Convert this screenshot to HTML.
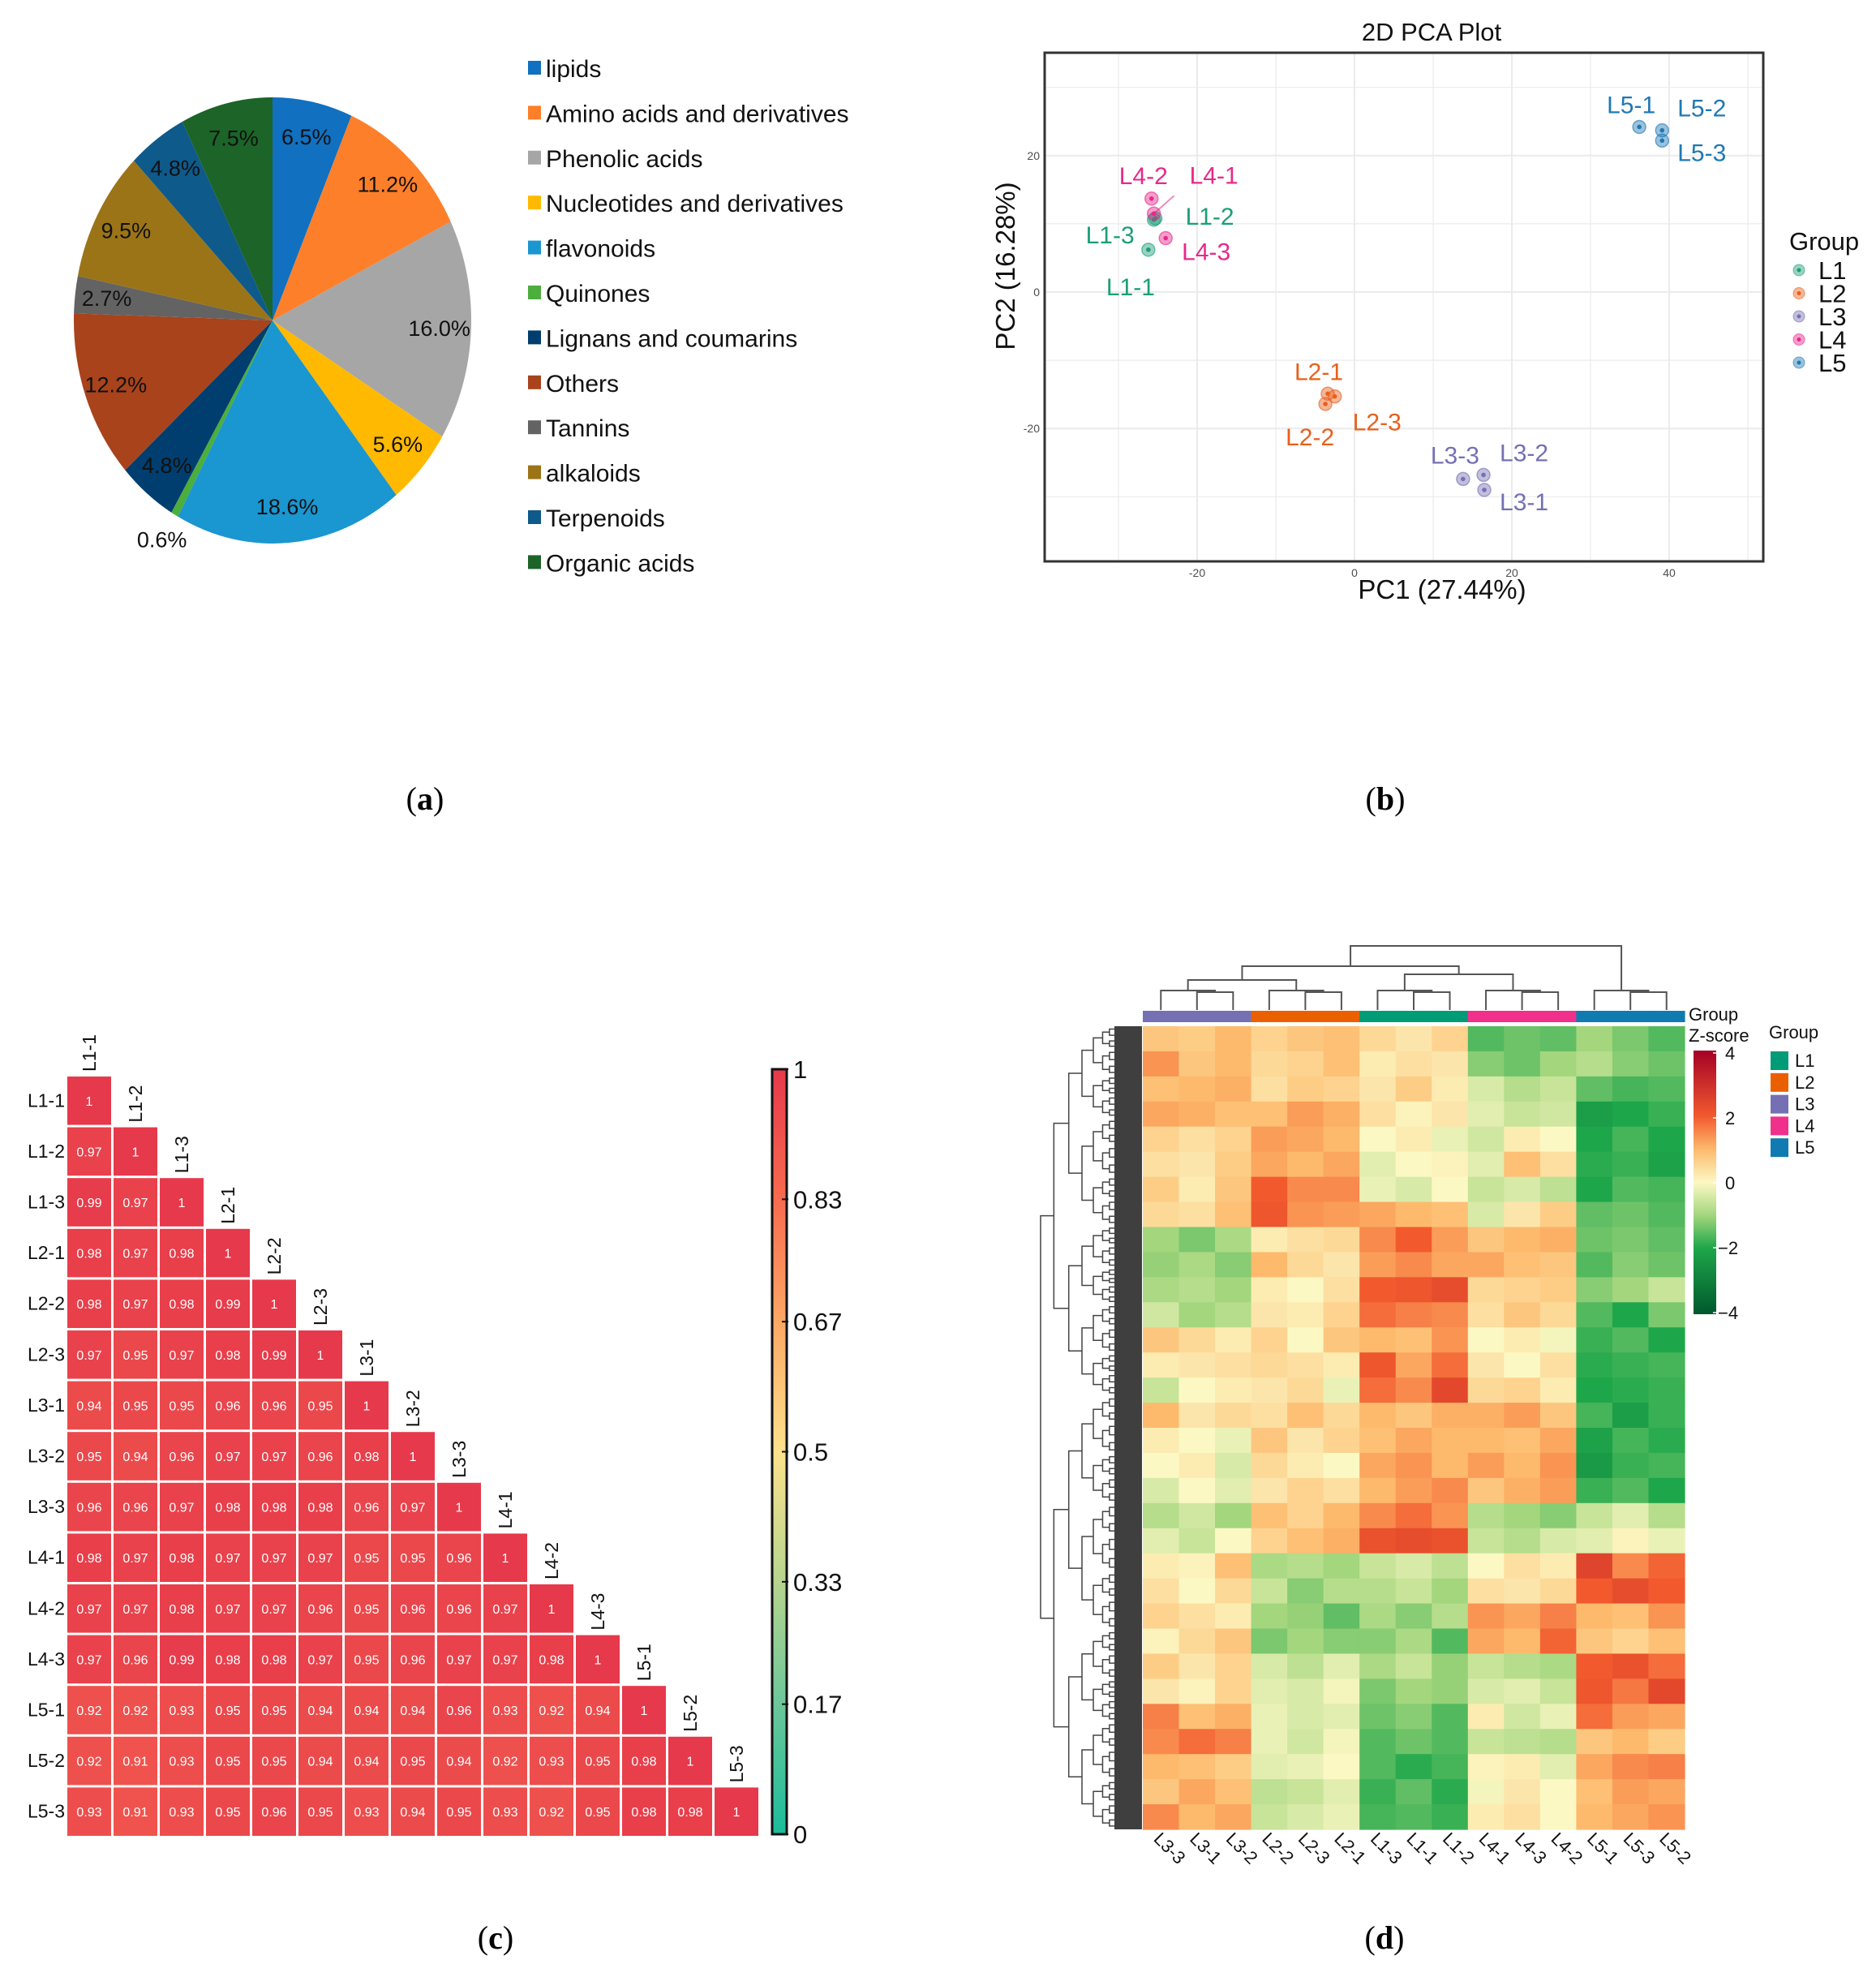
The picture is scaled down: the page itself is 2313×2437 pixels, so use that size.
<!DOCTYPE html>
<html><head><meta charset="utf-8"><style>
html,body{margin:0;padding:0;background:#fff;}
svg{display:block;font-family:"Liberation Sans",Arial,sans-serif;}
</style></head><body>
<svg id="chart" xmlns="http://www.w3.org/2000/svg" width="2313" height="2437" viewBox="0 0 2313 2437">
<rect x="0" y="0" width="2313" height="2437" fill="#fff"/>
<text x="524" y="998" font-family="Liberation Serif,serif" font-size="40" text-anchor="middle">(<tspan font-weight="bold">a</tspan>)</text>
<text x="1708" y="998" font-family="Liberation Serif,serif" font-size="40" text-anchor="middle">(<tspan font-weight="bold">b</tspan>)</text>
<text x="611" y="2402" font-family="Liberation Serif,serif" font-size="40" text-anchor="middle">(<tspan font-weight="bold">c</tspan>)</text>
<text x="1707" y="2402" font-family="Liberation Serif,serif" font-size="40" text-anchor="middle">(<tspan font-weight="bold">d</tspan>)</text>
</svg>
<script>
// ---------- Panel A data ----------
const pieCategories = ["lipids","Amino acids and derivatives","Phenolic acids","Nucleotides and derivatives","flavonoids","Quinones","Lignans and coumarins","Others","Tannins","alkaloids","Terpenoids","Organic acids"];
const pieValues = [6.5,11.2,16.0,5.6,18.6,0.6,4.8,12.2,2.7,9.5,4.8,7.5];
const pieColors = ["#1170c0","#fd7f2a","#a6a6a6","#ffb900","#1a96d0","#4cae3c","#003e6f","#a8431c","#636363","#9b7418","#0e5a8a","#1c6428"];

// ---------- Panel B data ----------
const pcaNames = ["L1-1","L1-2","L1-3","L2-1","L2-2","L2-3","L3-1","L3-2","L3-3","L4-1","L4-2","L4-3","L5-1","L5-2","L5-3"];
const pcaGroup = [0,0,0,1,1,1,2,2,2,3,3,3,4,4,4];
const pcaX = [-26.2,-25.3,-25.5,-3.4,-3.7,-2.5,16.5,16.4,13.8,-25.5,-25.8,-24.0,36.2,39.1,39.1];
const pcaY = [6.2,10.8,10.6,-14.9,-16.4,-15.3,-29.0,-26.8,-27.4,11.5,13.7,7.9,24.2,23.7,22.2];
const pcaXTicks = [-20,0,20,40];
const pcaYTicks = [20,0,-20];
const groupNames = ["L1","L2","L3","L4","L5"];

// ---------- Panel C data ----------
const corrLabels = ["L1-1","L1-2","L1-3","L2-1","L2-2","L2-3","L3-1","L3-2","L3-3","L4-1","L4-2","L4-3","L5-1","L5-2","L5-3"];
const corrRows = [
[1],
[.97,1],
[.99,.97,1],
[.98,.97,.98,1],
[.98,.97,.98,.99,1],
[.97,.95,.97,.98,.99,1],
[.94,.95,.95,.96,.96,.95,1],
[.95,.94,.96,.97,.97,.96,.98,1],
[.96,.96,.97,.98,.98,.98,.96,.97,1],
[.98,.97,.98,.97,.97,.97,.95,.95,.96,1],
[.97,.97,.98,.97,.97,.96,.95,.96,.96,.97,1],
[.97,.96,.99,.98,.98,.97,.95,.96,.97,.97,.98,1],
[.92,.92,.93,.95,.95,.94,.94,.94,.96,.93,.92,.94,1],
[.92,.91,.93,.95,.95,.94,.94,.95,.94,.92,.93,.95,.98,1],
[.93,.91,.93,.95,.96,.95,.93,.94,.95,.93,.92,.95,.98,.98,1]];
const corrTicks = [1,0.83,0.67,0.5,0.33,0.17,0];

// ---------- Panel D data ----------
const hmCols = ["L3-3","L3-1","L3-2","L2-2","L2-3","L2-1","L1-3","L1-1","L1-2","L4-1","L4-3","L4-2","L5-1","L5-3","L5-2"];
const hmColGroup = [2,2,2,1,1,1,0,0,0,3,3,3,4,4,4];
const hmRows = [
[0.8,0.7,1.0,0.6,0.8,0.9,0.5,0.3,0.6,-1.6,-1.4,-1.5,-1.0,-1.3,-1.6],
[1.4,0.8,1.0,0.5,0.6,0.9,0.2,0.4,0.3,-1.2,-1.4,-1.0,-0.8,-1.2,-1.4],
[0.9,1.0,1.1,0.4,0.7,0.6,0.3,0.7,0.2,-0.4,-0.8,-0.6,-1.5,-1.7,-1.6],
[1.2,1.1,0.9,0.9,1.3,1.1,0.4,0.1,0.3,-0.3,-0.6,-0.5,-2.2,-2.0,-1.8],
[0.6,0.4,0.6,1.3,1.2,1.0,0.0,0.2,-0.2,-0.5,0.2,0.0,-2.0,-1.7,-2.0],
[0.4,0.3,0.7,1.2,1.0,1.2,-0.3,0.0,0.1,-0.3,0.9,0.4,-1.9,-1.8,-2.1],
[0.7,0.2,0.8,2.0,1.5,1.5,-0.2,-0.4,0.0,-0.6,-0.4,-0.7,-2.0,-1.6,-1.7],
[0.5,0.4,0.9,2.1,1.4,1.3,1.2,1.0,0.9,-0.4,0.3,0.7,-1.5,-1.4,-1.6],
[-1.0,-1.3,-0.9,0.2,0.4,0.5,1.5,2.0,1.3,0.8,1.0,1.1,-1.4,-1.3,-1.5],
[-1.1,-0.9,-1.2,1.0,0.5,0.3,1.3,1.5,1.2,1.2,0.9,0.8,-1.6,-1.2,-1.4],
[-0.9,-0.8,-1.0,0.2,0.0,0.4,2.0,2.1,2.3,0.5,0.6,0.7,-1.2,-1.0,-0.6],
[-0.5,-1.0,-0.8,0.3,0.2,0.6,1.8,1.6,1.5,0.4,0.8,0.5,-1.6,-2.0,-1.3],
[0.8,0.5,0.2,0.6,0.0,0.8,1.0,0.9,1.4,0.0,0.2,-0.1,-1.8,-1.6,-2.0],
[0.2,0.3,0.4,0.5,0.4,0.2,2.1,1.2,1.8,0.3,0.0,0.4,-1.9,-1.8,-1.7],
[-0.6,0.0,0.2,0.3,0.5,-0.2,1.8,1.5,2.4,0.5,0.6,0.2,-2.0,-1.9,-1.8],
[1.0,0.3,0.5,0.4,0.9,0.5,1.0,0.8,1.1,1.1,1.3,0.8,-1.7,-2.2,-1.8],
[0.2,0.0,-0.2,0.8,0.3,0.6,0.9,1.2,1.0,1.0,0.9,1.2,-2.1,-1.7,-1.9],
[0.0,0.2,-0.4,0.5,0.2,0.0,1.2,1.4,1.0,1.3,1.0,1.4,-2.3,-1.8,-1.7],
[-0.4,0.0,-0.3,0.3,0.6,0.4,1.0,1.3,1.5,0.8,1.1,1.3,-1.8,-1.6,-2.0],
[-0.8,-0.5,-1.0,0.9,0.6,1.0,1.5,1.8,1.4,-0.8,-1.0,-1.2,-0.6,-0.3,-0.8],
[-0.3,-0.6,0.0,0.6,0.9,1.1,2.2,2.3,2.2,-0.6,-0.8,-0.4,-0.3,0.1,-0.2],
[0.2,0.1,0.9,-0.9,-0.8,-1.0,-0.6,-0.4,-0.7,0.0,0.4,0.2,2.5,1.5,1.9],
[0.4,0.0,0.5,-0.6,-1.2,-0.8,-0.8,-0.6,-1.0,0.4,0.3,0.5,2.0,2.3,2.0],
[0.6,0.4,0.2,-1.0,-1.1,-1.5,-0.9,-1.2,-0.8,1.4,1.2,1.6,1.0,0.9,1.4],
[0.1,0.5,0.8,-1.3,-1.0,-1.2,-1.2,-0.9,-1.6,1.2,1.0,1.9,0.8,0.6,0.9],
[0.7,0.3,0.6,-0.4,-0.7,-0.3,-0.9,-0.6,-1.1,-0.6,-0.8,-0.9,2.0,2.2,1.8],
[0.3,0.1,0.6,-0.3,-0.4,-0.1,-1.3,-1.0,-1.1,-0.4,-0.3,-0.6,2.1,1.7,2.4],
[1.6,0.9,1.1,-0.2,-0.4,-0.3,-1.4,-1.2,-1.6,0.2,-0.5,-0.2,1.8,1.3,1.2],
[1.5,1.8,1.6,-0.2,-0.5,-0.1,-1.6,-1.4,-1.6,-0.6,-0.7,-0.8,0.8,1.0,0.7],
[1.0,0.9,0.7,-0.3,-0.2,0.0,-1.6,-1.9,-1.7,0.1,0.2,-0.3,1.2,1.5,1.6],
[0.8,1.2,0.9,-0.7,-0.6,-0.3,-1.8,-1.5,-1.9,-0.1,0.3,0.0,0.9,1.3,1.2],
[1.5,1.0,1.2,-0.6,-0.4,-0.2,-1.7,-1.6,-1.8,0.2,0.4,0.0,1.0,1.2,1.4]];
const zTicks = [4,2,0,-2,-4];

const NS = "http://www.w3.org/2000/svg";
const svg = document.getElementById('chart');
function mk(tag, attrs, parent){
  const e = document.createElementNS(NS, tag);
  for (const k in attrs) e.setAttribute(k, attrs[k]);
  (parent || svg).appendChild(e);
  return e;
}
function txt(s, attrs, parent){ const e = mk('text', attrs, parent); e.textContent = s; return e; }
function hex2rgb(h){ return [parseInt(h.substr(1,2),16),parseInt(h.substr(3,2),16),parseInt(h.substr(5,2),16)]; }
function interp(stops, v){
  if (v <= stops[0][0]) return stops[0][1];
  for (let i=1;i<stops.length;i++){
    if (v <= stops[i][0]){
      const t = (v-stops[i-1][0])/(stops[i][0]-stops[i-1][0]);
      const a = hex2rgb(stops[i-1][1]), b = hex2rgb(stops[i][1]);
      return 'rgb(' + a.map((x,j)=>Math.round(x+(b[j]-x)*t)).join(',') + ')';
    }
  }
  return stops[stops.length-1][1];
}

// ===== Panel A: pie =====
(function(){
  const cx = 336, cy = 395, r = 245, sy = 275/245;
  const g = mk('g', {transform:`translate(${cx},${cy}) scale(1,${sy})`});
  
  
  const total = pieValues.reduce((a,b)=>a+b,0);
  let cum = 0;
  pieValues.forEach((v,i)=>{
    const a0 = cum/total*2*Math.PI, a1 = (cum+v)/total*2*Math.PI;
    const large = (a1-a0) > Math.PI ? 1 : 0;
    const d = `M0,0 L${r*Math.sin(a0)},${-r*Math.cos(a0)} A${r},${r} 0 ${large} 1 ${r*Math.sin(a1)},${-r*Math.cos(a1)} Z`;
    const p = mk('path', {d:d, fill:pieColors[i]}, g);
    
    
    const mid = (a0+a1)/2;
    const f = v < 1 ? 1.13 : 0.84;
    const lx = cx + f*r*Math.sin(mid), ly = cy - f*r*sy*Math.cos(mid);
    const t = txt(v.toFixed(1)+'%', {x:lx, y:ly+9, 'font-size':27, 'text-anchor':'middle', fill:'#111'});
    
    
    cum += v;
  });
  pieCategories.forEach((c,i)=>{
    const y = 85 + i*55.4;
    const s = mk('rect', {x:651, y:y-10, width:16, height:17, fill:pieColors[i]});
    
    
    const t = txt(c, {x:673, y:y+10, 'font-size':30, fill:'#111'});
    
    
  });
})();

// ===== Panel B: PCA =====
(function(){
  const colors = ["#1b9e77","#e8601c","#7570b3","#e7298a","#1f78b4"];
  const X = v => 1670 + v*9.7;
  const Y = v => 360 - v*8.41;
  const L = 1288, R = 2174, T = 65, B = 692;
  for (let v=-30; v<=50; v+=10){
    const l = mk('line', {x1:X(v), x2:X(v), y1:T, y2:B, stroke:'#ebebeb', 'stroke-width': v%20===0?2:1.2});
    
    
  }
  for (let v=-30; v<=30; v+=10){
    const l = mk('line', {x1:L, x2:R, y1:Y(v), y2:Y(v), stroke:'#ebebeb', 'stroke-width': v%20===0?2:1.2});
    
    
  }
  const box = mk('rect', {x:L, y:T, width:R-L, height:B-T, fill:'none', stroke:'#333', 'stroke-width':3});
  
  
  pcaXTicks.forEach(v=>{
    const t = txt(String(v), {x:X(v), y:B+19, 'font-size':14, 'text-anchor':'middle', fill:'#4d4d4d'});
    
    
  });
  pcaYTicks.forEach(v=>{
    const t = txt(String(v), {x:L-6, y:Y(v)+5, 'font-size':14, 'text-anchor':'end', fill:'#4d4d4d'});
    
    
  });
  const title = txt('2D PCA Plot', {x:1765, y:50, 'font-size':31, 'text-anchor':'middle', fill:'#111'});
  
  
  const xt = txt('PC1 (27.44%)', {x:1778, y:738, 'font-size':33, 'text-anchor':'middle', fill:'#111'});
  
  
  const yt = txt('PC2 (16.28%)', {x:0, y:0, 'font-size':33, 'text-anchor':'middle', fill:'#111', transform:'translate(1251,328) rotate(-90)'});
  
  
  const offs = {"L1-1":[-22,45],"L1-2":[67,-3],"L1-3":[-54,18],"L2-1":[-11,-28],"L2-2":[-19,40],"L2-3":[52,31],"L3-1":[49,14],"L3-2":[50,-28],"L3-3":[-10,-30],"L4-1":[74,-48],"L4-2":[-10,-29],"L4-3":[50,16],"L5-1":[-10,-28],"L5-2":[49,-28],"L5-3":[49,14]};
  const l41 = mk('line', {x1:X(pcaX[9]), y1:Y(pcaY[9]), x2:X(pcaX[9])+25, y2:Y(pcaY[9])-22, stroke:'#f08cbf', 'stroke-width':2});
  
  
  pcaNames.forEach((n,i)=>{
    const c = colors[pcaGroup[i]];
    const o = mk('circle', {cx:X(pcaX[i]), cy:Y(pcaY[i]), r:8, fill:c, 'fill-opacity':0.45, stroke:c, 'stroke-opacity':0.6, 'stroke-width':1.5});
    
    
    const d = mk('circle', {cx:X(pcaX[i]), cy:Y(pcaY[i]), r:2.8, fill:c});
    
    
    const of = offs[n];
    const t = txt(n, {x:X(pcaX[i])+of[0], y:Y(pcaY[i])+of[1]+11, 'font-size':30, 'text-anchor':'middle', fill:c});
    
    
  });
  const lg = txt('Group', {x:2206, y:308, 'font-size':31, fill:'#111'});
  
  
  groupNames.forEach((g,i)=>{
    const y = 333 + i*28.5;
    const c1 = mk('circle', {cx:2218, cy:y, r:7, fill:colors[i], 'fill-opacity':0.45, stroke:colors[i], 'stroke-opacity':0.6});
    
    
    const c2 = mk('circle', {cx:2218, cy:y, r:2.5, fill:colors[i]});
    
    
    const t = txt(g, {x:2242, y:y+11, 'font-size':31, fill:'#111'});
    
    
  });
})();

// ===== Panel C: correlation triangle =====
(function(){
  const stops = [[0,'#1bbc9b'],[0.17,'#6cc79a'],[0.33,'#b6d58e'],[0.5,'#fde28c'],[0.67,'#fca865'],[0.83,'#f86b4f'],[1,'#e6394b']];
  const x0 = 83, y0 = 1327, pw = 57, ph = 62.6, gap = 3;
  corrRows.forEach((row,i)=>{
    const lab = txt(corrLabels[i], {x:80, y:y0+i*ph+ph/2+6, 'font-size':23, 'text-anchor':'end', fill:'#111'});
    
    
    row.forEach((v,j)=>{
      const r = mk('rect', {x:x0+j*pw, y:y0+i*ph, width:pw-gap, height:ph-gap, fill:interp(stops,v)});
      
      
      const t = txt(v===1?'1':v.toFixed(2), {x:x0+j*pw+(pw-gap)/2, y:y0+i*ph+(ph-gap)/2+6, 'font-size':16, 'text-anchor':'middle', fill:'#fff'});
      
      
    });
    const cl = txt(corrLabels[i], {x:0, y:0, 'font-size':23, fill:'#111', transform:`translate(${x0+i*pw+(pw-gap)/2+8},${y0+i*ph-6}) rotate(-90)`});
    
    
  });
  const defs = mk('defs', {});
  const lgd = mk('linearGradient', {id:'corrGrad', x1:0, y1:1, x2:0, y2:0}, defs);
  stops.forEach(s=>{ mk('stop', {offset:s[0], 'stop-color':s[1]}, lgd); });
  const bar = mk('rect', {x:952, y:1318, width:18, height:943, fill:'url(#corrGrad)', stroke:'#111', 'stroke-width':3});
  
  
  const Yc = v => 2261 - v*943;
  corrTicks.forEach(v=>{
    const tk = mk('line', {x1:964, x2:972, y1:Yc(v), y2:Yc(v), stroke:'#111', 'stroke-width':2});
    
    
    const t = txt(String(v), {x:978, y:Yc(v)+11, 'font-size':31, fill:'#111'});
    
    
  });
})();

// ===== Panel D: clustered heatmap =====
(function(){
  const gcol = ["#009b77","#ea6000","#7570b3","#f0308a","#0f7bb0"];
  const zstops = [[-4,'#00582c'],[-2,'#1ea64a'],[-1,'#a3d67d'],[0,'#fcf8c4'],[1,'#fdba6c'],[2,'#f25a2e'],[4,'#a50026']];
  const x0 = 1409, y0 = 1265, W = 2077-1409, H = 2255-1265;
  const cw = W/hmCols.length, rh = H/hmRows.length;
  const cx = i => x0 + cw*(i+0.5);
  hmRows.forEach((row,i)=>{
    row.forEach((v,j)=>{
      const r = mk('rect', {x:x0+j*cw, y:y0+i*rh, width:cw+0.6, height:rh+0.6, fill:interp(zstops,v)});
      
      
    });
  });
  hmCols.forEach((c,j)=>{
    const r = mk('rect', {x:x0+j*cw, y:1246, width:cw+0.6, height:14, fill:gcol[hmColGroup[j]]});
    
    
    const t = txt(c, {x:0, y:0, 'font-size':22, fill:'#111', transform:`translate(${cx(j)-10},${2268}) rotate(45)`});
    
    
  });
  const dg = mk('g', {stroke:'#555', 'stroke-width':2, fill:'none'});
  
  
  function link(xa,ya,xb,yb,yt){ mk('path', {d:`M${xa},${ya} V${yt} H${xb} V${yb}`}, dg); }
  const leafY = 1245;
  const gc = [];
  for (let g=0; g<5; g++){
    const a = g*3;
    link(cx(a+1),leafY,cx(a+2),leafY,1223);
    const pm = (cx(a+1)+cx(a+2))/2;
    link(cx(a),leafY,pm,1223,1221);
    gc.push([(cx(a)+pm)/2,1221]);
  }
  link(gc[0][0],gc[0][1],gc[1][0],gc[1][1],1208);
  const m01 = (gc[0][0]+gc[1][0])/2;
  link(gc[2][0],gc[2][1],gc[3][0],gc[3][1],1201);
  const m23 = (gc[2][0]+gc[3][0])/2;
  link(m01,1208,m23,1201,1191);
  const m0123 = (m01+m23)/2;
  link(m0123,1191,gc[4][0],gc[4][1],1166);
  const rg = mk('g', {stroke:'#444', 'stroke-width':1.5, fill:'none'});
  
  
  function tree(a,b,depth){
    if (depth===7) return {y:(a+b)/2, x:1376};
    const f = depth%2===0 ? 0.46 : 0.54;
    const m = a + (b-a)*f;
    const c1 = tree(a,m,depth+1), c2 = tree(m,b,depth+1);
    const x = 1376 - 93*Math.pow(1-depth/7,1.6) - (depth===0?0:4);
    mk('path', {d:`M${c1.x},${c1.y} H${x} V${c2.y} H${c2.x}`}, rg);
    return {y:(c1.y+c2.y)/2, x:x};
  }
  tree(y0,y0+H,0);
  const band = mk('rect', {x:1374, y:y0, width:34, height:H, fill:'#3f3f3f'});
  
  
  const a1 = txt('Group', {x:2082, y:1258, 'font-size':22, fill:'#111'});
  
  
  const a2 = txt('Z-score', {x:2082, y:1284, 'font-size':22, fill:'#111'});
  
  
  const defs = mk('defs', {});
  const lg = mk('linearGradient', {id:'zGrad', x1:0, y1:1, x2:0, y2:0}, defs);
  zstops.forEach(s=>{ mk('stop', {offset:(s[0]+4)/8, 'stop-color':s[1]}, lg); });
  const bar = mk('rect', {x:2088, y:1295, width:28, height:325, fill:'url(#zGrad)'});
  
  
  const Yz = v => 1458 - v*40;
  zTicks.forEach(v=>{
    const tk = mk('line', {x1:2112, x2:2118, y1:Yz(v), y2:Yz(v), stroke:'#fff', 'stroke-width':1.5});
    
    
    const t = txt(v<0?'\u2212'+Math.abs(v):String(v), {x:v<0?2118:2127, y:Yz(v)+8, 'font-size':22, fill:'#111'});
    
    
  });
  const gt = txt('Group', {x:2181, y:1280, 'font-size':22, fill:'#111'});
  
  
  groupNames.forEach((g,i)=>{
    const y = 1296 + i*26.8;
    const s = mk('rect', {x:2183, y:y, width:22, height:23, fill:gcol[i]});
    
    
    const t = txt(g, {x:2213, y:y+19, 'font-size':22, fill:'#111'});
    
    
  });
})();
</script>
</body></html>
